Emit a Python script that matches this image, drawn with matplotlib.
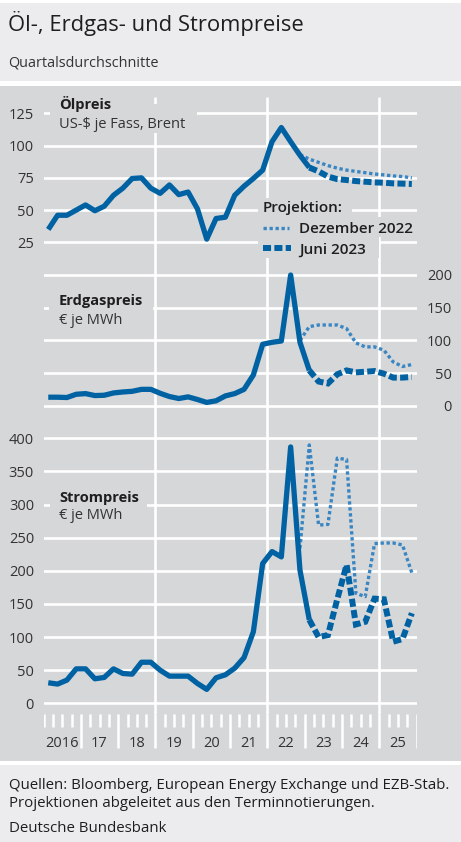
import matplotlib
matplotlib.use('Agg')
import matplotlib.pyplot as plt
from matplotlib.patches import Rectangle
from matplotlib.lines import Line2D

plt.rcParams['font.family'] = ['Open Sans', 'DejaVu Sans']

# ---------------- data (quarterly, 2016Q1 = index 0 ... 2025Q4 = index 39) ----------------
years = ['2016', '17', '18', '19', '20', '21', '22', '23', '24', '25']

oil_actual = [35, 46, 46, 50, 54, 49.5, 53, 61.5, 67, 74.5, 75, 67, 63, 69.5, 62, 64,
              51, 27.5, 43.5, 44.5, 61.5, 68.5, 74.5, 81, 103, 114, 103, 92.5, 83]
oil_dez22 = [93, 89.5, 87, 84.5, 82.5, 81, 80, 79, 78, 77.3, 76.5, 76, 75]
oil_jun23 = [83, 80, 76, 74, 73.3, 72.5, 72, 71.5, 71.2, 70.7, 70.5, 70.2]

gas_actual = [13, 13, 12.5, 17.5, 18.5, 15.5, 16, 19.5, 21, 22, 25, 25, 19, 14, 11, 13.5,
              9.5, 5, 7.5, 15, 18.5, 25, 47, 94, 97, 99, 200, 97, 54]
gas_dez22 = [100, 121, 123.5, 123.5, 123.5, 118, 96, 90, 90, 85, 67, 60, 63]
gas_jun23 = [54, 37, 34, 48, 54, 51, 52, 53, 49, 43, 43, 44]

elec_actual = [31, 29, 35, 52, 52, 37, 39, 52, 45, 44, 62, 62, 50, 41, 41, 41,
               30, 21, 38.5, 43, 53, 69, 108, 211, 229, 221, 387, 201, 126]
elec_dez22 = [234, 390, 269, 270, 370, 368, 166, 161, 241, 242, 242, 239, 197]
elec_jun23 = [126, 100, 103, 157, 209, 119, 123, 158, 157, 93, 97, 136]

oil_ticks = [25, 50, 75, 100, 125]
gas_ticks = [0, 50, 100, 150, 200]
elec_ticks = [0, 50, 100, 150, 200, 250, 300, 350, 400]

idx_actual = list(range(len(oil_actual)))                 # 0..28
idx_dez22 = list(range(40 - len(oil_dez22), 40))          # 27..39
idx_jun23 = list(range(40 - len(oil_jun23), 40))          # 28..39

# ---------------- style ----------------
W, H, DPI = 461, 842, 100
LIGHT = '#ececee'
PANEL = '#d6d7d9'
BLUE = '#0062a3'
LBLUE = '#3a86c3'
TXT = '#1e1e1e'
TICK = '#333333'
GRID_LW = 1.9
FS = 10.5

fig = plt.figure(figsize=(W / DPI, H / DPI), dpi=DPI)
fig.patch.set_facecolor(LIGHT)


def fx(px):
    return px / W


def fy(py):
    return 1 - py / H


def rect(x0, y0, x1, y1, color, z):
    fig.add_artist(Rectangle((fx(x0), fy(y1)), fx(x1) - fx(x0), fy(y0) - fy(y1),
                             transform=fig.transFigure, facecolor=color,
                             edgecolor='none', zorder=z))


# white separators and panel
rect(0, 0, W, 2.7, 'white', -5)
rect(0, 81, W, 86, 'white', -5)
rect(0, 86, W, 761, PANEL, -5)
rect(0, 761, W, 765, 'white', -5)

X_L, X_R = 43.6, 416.5


def add_axes(top, bottom):
    ax = fig.add_axes([fx(X_L), fy(bottom), fx(X_R) - fx(X_L), (bottom - top) / H])
    ax.patch.set_visible(False)
    for s in ax.spines.values():
        s.set_visible(False)
    ax.set_xlim(-0.5, 39.5)
    ax.set_xticks([])
    return ax


# background axes (pixel y) for vertical grid lines, ticks, year labels
bg = add_axes(86, 761)
bg.set_ylim(761, 86)
bg.set_yticks([])
year_bounds = [4 * k - 0.5 for k in range(1, 10)]
bg.vlines([11.5, 23.5, 35.5], 97, 714, color='white', lw=GRID_LW)
small = [-0.5] + [k - 0.5 for k in range(1, 40) if k % 4 != 0]
tall = year_bounds + [39.5]
bg.vlines(small, 714, 727, color='white', lw=1.8)
bg.vlines(tall, 714, 748, color='white', lw=1.8)
for j, lab in enumerate(years):
    bg.text(4 * j + 1.5, 743.5, lab, ha='center', va='center', fontsize=FS, color=TICK)


def style_y(ax, ticks, side='left'):
    ax.set_yticks(ticks)
    ax.grid(axis='y', color='white', lw=GRID_LW)
    ax.set_axisbelow(True)
    if side == 'left':
        ax.tick_params(axis='y', length=0, labelsize=FS, labelcolor=TICK, pad=6.9)
    else:
        ax.yaxis.tick_right()
        ax.tick_params(axis='y', length=0, labelsize=FS, labelcolor=TICK, pad=25.6)
        for t in ax.get_yticklabels():
            t.set_ha('right')


def draw(ax, act, dez, jun):
    ax.plot(idx_dez22, dez, color=LBLUE, lw=2.4, linestyle=(0, (1.0, 0.8)),
            dash_capstyle='butt', zorder=2, clip_on=False)
    ax.plot(idx_jun23, jun, color=BLUE, lw=4.3, linestyle=(0, (1.35, 0.55)),
            dash_capstyle='butt', dash_joinstyle='miter', zorder=2.5, clip_on=False)
    ax.plot(idx_actual, act, color=BLUE, lw=3.8, solid_capstyle='butt',
            solid_joinstyle='round', zorder=3, clip_on=False)


# Oil: 0 at y=274.6 px, 1.29 px per unit
oil_ax = add_axes(97, 274.6)
oil_ax.set_ylim(0, (274.6 - 97) / 1.29)
style_y(oil_ax, oil_ticks, 'left')
draw(oil_ax, oil_actual, oil_dez22, oil_jun23)

# Gas: 0 at y=405.7 px, 0.6535 px per unit
gas_ax = add_axes(262, 420)
gas_ax.set_ylim((405.7 - 420) / 0.6535, (405.7 - 262) / 0.6535)
style_y(gas_ax, gas_ticks, 'right')
draw(gas_ax, gas_actual, gas_dez22, gas_jun23)

# Electricity: 0 at y=703.3 px, 0.6625 px per unit
el_ax = add_axes(430, 714)
el_ax.set_ylim((703.3 - 714) / 0.6625, (703.3 - 430) / 0.6625)
style_y(el_ax, elec_ticks, 'left')
draw(el_ax, elec_actual, elec_dez22, elec_jun23)

# masks behind labels
rect(50, 104, 197, 133, PANEL, 2)
rect(49, 289, 153, 328, PANEL, 2)
rect(50, 487, 147, 524, PANEL, 2)
rect(258, 198, 352, 217, PANEL, 2)
rect(258, 217, 418, 237, PANEL, 2)
rect(258, 237, 379, 258, PANEL, 2)


def ftext(x, y, s, **kw):
    fig.text(fx(x), fy(y), s, va='baseline', zorder=3, **kw)


ftext(8, 31, 'Öl-, Erdgas- und Strompreise', fontsize=15.8, color=TXT)
ftext(8, 66.5, 'Quartalsdurchschnitte', fontsize=10.4, color='#333333')

ftext(59, 109.3, 'Ölpreis', fontsize=FS, fontweight='bold', color=TXT)
ftext(59, 127.7, 'US-$ je Fass, Brent', fontsize=FS, color='#333333')
ftext(59, 305, 'Erdgaspreis', fontsize=FS, fontweight='bold', color=TXT)
ftext(59, 324, '€ je MWh', fontsize=FS, color='#333333')
ftext(59, 501.7, 'Strompreis', fontsize=FS, fontweight='bold', color=TXT)
ftext(59, 519.3, '€ je MWh', fontsize=FS, color='#333333')

ftext(263, 211.7, 'Projektion:', fontsize=11, fontweight='semibold', color=TXT)
ftext(299, 233.3, 'Dezember 2022', fontsize=11, fontweight='semibold', color=TXT)
ftext(299, 254, 'Juni 2023', fontsize=11, fontweight='semibold', color=TXT)
fig.add_artist(Line2D([fx(263), fx(289)], [fy(228.3), fy(228.3)], transform=fig.transFigure,
                      color=LBLUE, lw=2.4, linestyle=(0, (1.0, 0.8)), dash_capstyle='butt', zorder=4))
fig.add_artist(Line2D([fx(263), fx(291)], [fy(248.3), fy(248.3)], transform=fig.transFigure,
                      color=BLUE, lw=4.3, linestyle=(0, (1.35, 0.55)), dash_capstyle='butt', zorder=4))

ftext(9, 789.3, 'Quellen: Bloomberg, European Energy Exchange und EZB-Stab.', fontsize=10.8, color=TXT)
ftext(9, 806.7, 'Projektionen abgeleitet aus den Terminnotierungen.', fontsize=10.8, color=TXT)
ftext(9, 831.7, 'Deutsche Bundesbank', fontsize=10.8, color=TXT)

fig.savefig('out.png', dpi=DPI, facecolor=fig.get_facecolor())
